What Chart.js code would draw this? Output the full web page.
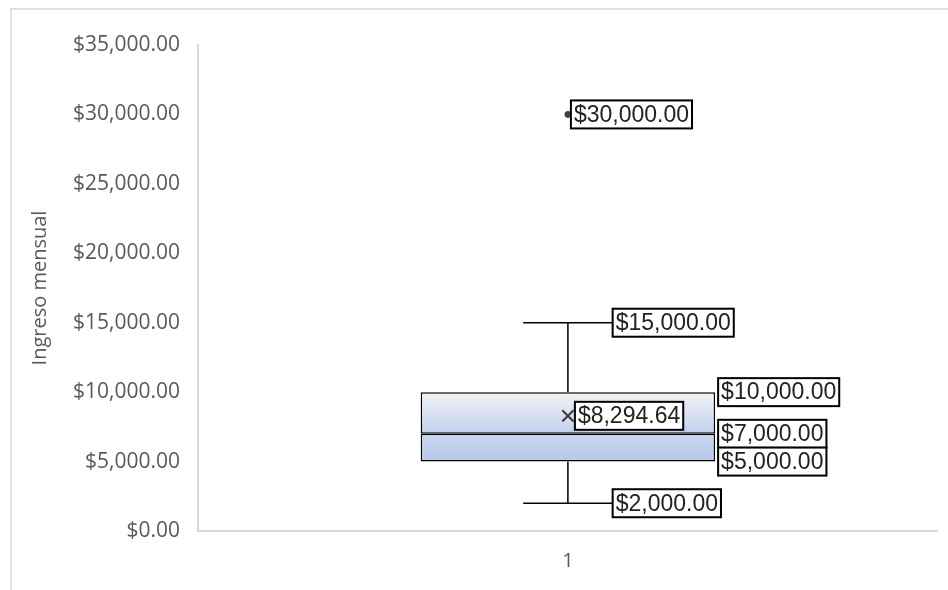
<!DOCTYPE html>
<html>
<head>
<meta charset="utf-8">
<script src="https://cdn.jsdelivr.net/npm/chart.js@4"></script>
<style>
  html, body { margin: 0; padding: 0; background: #fff; }
  #marco { position: absolute; left: 10px; top: 8px; width: 946px; height: 590px; border-left: 2px solid #e0e0e0; border-top: 2px solid #e0e0e0; }
  #wrap { position: absolute; left: 0; top: 0; width: 948px; height: 590px; }
</style>
</head>
<body>
<div id="marco"></div>
<div id="wrap"><canvas id="cajas"></canvas></div>
<script>
// Resumen del ingreso mensual (diagrama de caja)
var categorias = ['1'];
var minimo = [2000];
var cuartil1 = [5000];
var mediana = [7000];
var cuartil3 = [10000];
var maximo = [15000];
var media = [8294.64];
var atipicos = [30000];
var marcasY = [0, 5000, 10000, 15000, 20000, 25000, 30000, 35000];

function moneda(v) {
    return '$' + v.toLocaleString('en-US', { minimumFractionDigits: 2, maximumFractionDigits: 2 });
}

// degradado vertical entre dos valores del eje y
function degradado(ctx, desde, hasta, c1, c2) {
    var chart = ctx.chart;
    var y = chart.scales.y;
    if (!y || !chart.chartArea) return c2;
    var g = chart.ctx.createLinearGradient(0, y.getPixelForValue(hasta), 0, y.getPixelForValue(desde));
    g.addColorStop(0, c1);
    g.addColorStop(1, c2);
    return g;
}

// bigotes y etiquetas con recuadro
var bigotes = {
    id: 'bigotes',
    afterDatasetsDraw: function (chart) {
        var c = chart.ctx;
        var x = chart.scales.x, y = chart.scales.y;
        var caja = chart.getDatasetMeta(0).data[0];
        var cx = x.getPixelForValue(0);
        var mitad = caja.width / 2;
        var tapa = caja.width * 0.152;
        c.save();
        c.strokeStyle = '#000';
        c.lineWidth = 1.5;
        c.beginPath();
        c.moveTo(cx, y.getPixelForValue(cuartil3[0]));
        c.lineTo(cx, y.getPixelForValue(maximo[0]));
        c.moveTo(cx - tapa, y.getPixelForValue(maximo[0]));
        c.lineTo(cx + tapa, y.getPixelForValue(maximo[0]));
        c.moveTo(cx, y.getPixelForValue(cuartil1[0]));
        c.lineTo(cx, y.getPixelForValue(minimo[0]));
        c.moveTo(cx - tapa, y.getPixelForValue(minimo[0]));
        c.lineTo(cx + tapa, y.getPixelForValue(minimo[0]));
        c.stroke();

        function etiqueta(valor, izq) {
            var texto = moneda(valor);
            c.font = '23px "Liberation Sans", Arial, sans-serif';
            var w = c.measureText(texto).width + 6;
            var h = 28;
            var py = y.getPixelForValue(valor);
            c.fillStyle = '#fff';
            c.fillRect(izq, py - h / 2, w, h);
            c.strokeStyle = '#000';
            c.lineWidth = 2;
            c.strokeRect(izq, py - h / 2, w, h);
            c.fillStyle = '#222';
            c.textBaseline = 'middle';
            c.textAlign = 'left';
            c.fillText(texto, izq + 3, py + 1);
        }
        etiqueta(maximo[0], cx + tapa);
        etiqueta(minimo[0], cx + tapa);
        etiqueta(cuartil3[0], cx + mitad + 3);
        etiqueta(mediana[0], cx + mitad + 3);
        etiqueta(cuartil1[0], cx + mitad + 3);
        etiqueta(media[0], cx + 7);
        etiqueta(atipicos[0], cx + 3);
        c.restore();
    }
};

new Chart(document.getElementById('cajas'), {
    data: {
        labels: categorias,
        datasets: [
            {
                type: 'bar',
                label: 'Q1-Mediana',
                data: cuartil1.map(function (v, i) { return [v, mediana[i]]; }),
                backgroundColor: function (ctx) { return degradado(ctx, cuartil1[0], mediana[0], '#c9d6f0', '#b8c8ea'); },
                borderColor: '#000',
                borderWidth: 1.5,
                borderSkipped: false,
                grouped: false,
                categoryPercentage: 0.398,
                barPercentage: 1,
                order: 3
            },
            {
                type: 'bar',
                label: 'Mediana-Q3',
                data: mediana.map(function (v, i) { return [v, cuartil3[i]]; }),
                backgroundColor: function (ctx) { return degradado(ctx, mediana[0], cuartil3[0], '#f3f3f3', '#c2d0ee'); },
                borderColor: '#000',
                borderWidth: 1.5,
                borderSkipped: false,
                grouped: false,
                categoryPercentage: 0.398,
                barPercentage: 1,
                order: 3
            },
            {
                type: 'line',
                label: 'Media',
                data: media,
                showLine: false,
                pointStyle: 'crossRot',
                pointRadius: 8,
                pointBorderWidth: 2.2,
                pointBorderColor: '#404040',
                order: 1
            },
            {
                type: 'line',
                label: 'Atípicos',
                data: atipicos,
                showLine: false,
                pointStyle: 'circle',
                pointRadius: 3,
                pointBackgroundColor: '#404040',
                pointBorderColor: '#404040',
                order: 1
            }
        ]
    },
    options: {
        responsive: true,
        maintainAspectRatio: false,
        animation: false,
        events: [],
        layout: { padding: { left: 28, top: 45, right: 6, bottom: 0 } },
        plugins: {
            legend: { display: false },
            tooltip: { enabled: false }
        },
        scales: {
            x: {
                grid: { display: false, drawTicks: false },
                border: { color: '#d9d9d9', width: 2 },
                ticks: { color: '#595959', font: { family: '"Open Sans"', size: 20 }, padding: 18 },
                afterFit: function (s) { s.height = 59; }
            },
            y: {
                min: 0,
                max: 35000,
                afterBuildTicks: function (s) { s.ticks = marcasY.map(function (v) { return { value: v }; }); },
                grid: { display: false, drawTicks: false },
                border: { color: '#d9d9d9', width: 2 },
                ticks: {
                    color: '#595959',
                    font: { family: '"Open Sans"', size: 21 },
                    padding: 18,
                    callback: function (v) { return moneda(v); }
                },
                title: {
                    display: true,
                    text: 'Ingreso mensual',
                    color: '#595959',
                    font: { family: '"Open Sans"', size: 20 },
                    padding: { top: 0, bottom: 10 }
                },
                afterFit: function (s) { s.width = 170; }
            }
        }
    },
    plugins: [bigotes]
});
</script>
</body>
</html>
